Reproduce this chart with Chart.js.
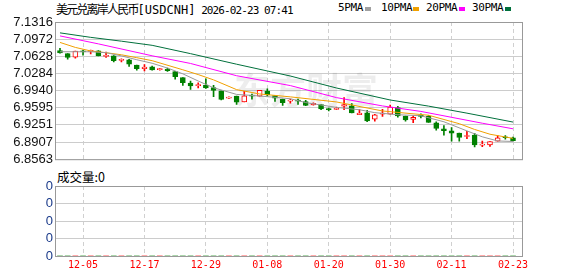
<!DOCTYPE html>
<html>
<head>
<meta charset="utf-8">
<script src="https://cdn.jsdelivr.net/npm/chart.js@4.4.1/dist/chart.umd.min.js"></script>
<style>
  body { margin: 0; background: #fff; width: 578px; height: 276px; overflow: hidden; position: relative; }
  canvas { position: absolute; left: 0; }
  #main { top: 0; }
  #vol { top: 170px; }
  .txt { position: absolute; white-space: nowrap; color: #000; }
  .cjk { font-family: "Noto Sans CJK SC", sans-serif; }
  .mono { font-family: "DejaVu Sans Mono", monospace; }
  .lg { position: absolute; top: 2px; font: 11px/12px "DejaVu Sans Mono", monospace; letter-spacing: -0.35px; color: #000; }
  .sw { position: absolute; top: 7px; width: 6px; height: 4px; }
</style>
</head>
<body>
<div class="txt" style="left:56px;top:1px;line-height:16px;">
  <span class="cjk" style="font-size:12px;letter-spacing:-1.8px;">美元兑离岸人民币</span><span class="mono" style="font-size:12px;">[USDCNH]</span><span class="mono" style="font-size:11px;letter-spacing:-0.9px;"> 2026-02-23 07:41</span>
</div>
<div class="lg" style="left:338px;">5PMA</div><div class="sw" style="left:365px;background:#a0a0a0;"></div>
<div class="lg" style="left:381px;">10PMA</div><div class="sw" style="left:413px;background:#f0a000;"></div>
<div class="lg" style="left:426px;">20PMA</div><div class="sw" style="left:459px;background:#ff00ff;"></div>
<div class="lg" style="left:472px;">30PMA</div><div class="sw" style="left:505px;background:#00703c;"></div>
<div class="txt cjk" style="left:57px;top:169px;font-size:12.5px;line-height:16px;">成交量:0</div>

<canvas id="main" width="578" height="170"></canvas>
<canvas id="vol" width="578" height="106"></canvas>

<script>
// daily candles, 2025-12-02 .. 2026-02-23 (60 sessions)
const opens  = [7.0744, 7.0681, 7.0610, 7.0739, 7.0726, 7.0739, 7.0626, 7.0636, 7.0547, 7.0559,
                7.0450, 7.0379, 7.0417, 7.0361, 7.0373, 7.0321, 7.0200, 7.0090, 7.0039, 7.0052,
                6.9999, 6.9936, 6.9789, 6.9828, 6.9712, 6.9840, 6.9828, 6.9930, 6.9840, 6.9763,
                6.9728, 6.9737, 6.9718, 6.9654, 6.9661, 6.9564, 6.9564, 6.9629, 6.9635, 6.9455,
                6.9493, 6.9366, 6.9468, 6.9468, 6.9597, 6.9429, 6.9359, 6.9429, 6.9423, 6.9295,
                6.9173, 6.9134, 6.9089, 6.9019, 6.9045, 6.8846, 6.8852, 6.8923, 6.9000, 6.8993];
const highs  = [7.0790, 7.0681, 7.0733, 7.0752, 7.0752, 7.0745, 7.0713, 7.0640, 7.0578, 7.0566,
                7.0450, 7.0463, 7.0430, 7.0386, 7.0392, 7.0328, 7.0200, 7.0129, 7.0097, 7.0174,
                7.0045, 6.9936, 6.9814, 6.9828, 6.9924, 6.9872, 6.9943, 6.9974, 6.9840, 6.9770,
                6.9770, 6.9770, 6.9744, 6.9693, 6.9661, 6.9590, 6.9609, 6.9801, 6.9680, 6.9558,
                6.9545, 6.9461, 6.9564, 6.9648, 6.9622, 6.9429, 6.9429, 6.9474, 6.9436, 6.9314,
                6.9237, 6.9199, 6.9089, 6.9122, 6.9083, 6.8929, 6.8916, 6.9038, 6.9038, 6.9006];
const lows   = [7.0690, 7.0571, 7.0590, 7.0648, 7.0675, 7.0636, 7.0604, 7.0514, 7.0514, 7.0425,
                7.0348, 7.0334, 7.0348, 7.0348, 7.0322, 7.0167, 7.0045, 6.9963, 6.9995, 6.9982,
                6.9820, 6.9751, 6.9782, 6.9661, 6.9712, 6.9770, 6.9828, 6.9828, 6.9724, 6.9641,
                6.9686, 6.9661, 6.9635, 6.9648, 6.9558, 6.9532, 6.9558, 6.9558, 6.9494, 6.9455,
                6.9314, 6.9327, 6.9423, 6.9468, 6.9404, 6.9327, 6.9295, 6.9391, 6.9301, 6.9147,
                6.9044, 6.8923, 6.8923, 6.8974, 6.8808, 6.8814, 6.8820, 6.8923, 6.8967, 6.8929];
const closes = [7.0694, 7.0604, 7.0733, 7.0714, 7.0733, 7.0636, 7.0636, 7.0540, 7.0553, 7.0469,
                7.0379, 7.0411, 7.0354, 7.0367, 7.0341, 7.0219, 7.0097, 7.0032, 7.0045, 6.9994,
                6.9943, 6.9763, 6.9801, 6.9705, 6.9834, 6.9828, 6.9943, 6.9853, 6.9789, 6.9699,
                6.9734, 6.9728, 6.9641, 6.9686, 6.9570, 6.9558, 6.9583, 6.9661, 6.9494, 6.9487,
                6.9333, 6.9455, 6.9474, 6.9609, 6.9429, 6.9352, 6.9404, 6.9423, 6.9301, 6.9179,
                6.9134, 6.9083, 6.9000, 6.9026, 6.8852, 6.8852, 6.8916, 6.8993, 6.8993, 6.8935];
const volumes = [0, 0, 0, 0, 0, 0, 0, 0, 0, 0, 0, 0, 0, 0, 0, 0, 0, 0, 0, 0,
                 0, 0, 0, 0, 0, 0, 0, 0, 0, 0, 0, 0, 0, 0, 0, 0, 0, 0, 0, 0,
                 0, 0, 0, 0, 0, 0, 0, 0, 0, 0, 0, 0, 0, 0, 0, 0, 0, 0, 0, 0];

// moving averages: [session index, value]
const ma5  = [[0, 7.0719], [4, 7.0719], [6, 7.0700], [8, 7.0636], [10, 7.0559], [12, 7.0488],
              [14, 7.0392], [16, 7.0276], [18, 7.0132], [20, 6.9997], [23, 6.9863], [25, 6.9843],
              [28, 6.9805], [30, 6.9776], [32, 6.9699], [36, 6.9603], [39, 6.9555], [41, 6.9497],
              [44, 6.9455], [47, 6.9435], [50, 6.9314], [53, 6.9131], [55, 6.9012], [57, 6.8929],
              [59, 6.8919]];
const ma10 = [[0, 7.0906], [2, 7.0806], [4, 7.0735], [6, 7.0700], [8, 7.0658], [10, 7.0600],
              [12, 7.0540], [16, 7.0357], [18, 7.0261], [20, 7.0155], [23, 6.9959], [26, 6.9872],
              [30, 6.9814], [36, 6.9712], [42, 6.9531], [48, 6.9445], [52, 6.9275], [54, 6.9160],
              [56, 6.9064], [59, 6.8981]];
const ma20 = [[0, 7.1037], [5, 7.0877], [12, 7.0638], [17, 7.0484], [23, 7.0238], [30, 7.0040],
              [36, 6.9799], [42, 6.9632], [47, 6.9522], [55, 6.9285], [59, 6.9173]];
const ma30 = [[0, 7.1098], [4, 7.1008], [8, 7.0931], [12, 7.0848], [17, 7.0681], [23, 7.0469],
              [30, 7.0232], [36, 6.9992], [43, 6.9751], [48, 6.9628], [53, 6.9487], [59, 6.9308]];

const tickIdx    = [3, 11, 19, 27, 35, 43, 51, 59];
const tickLabels = ['12-05', '12-17', '12-29', '01-08', '01-20', '01-30', '02-11', '02-23'];
const yTickLabels = ['6.8563', '6.8907', '6.9251', '6.9595', '6.9940', '7.0284', '7.0628', '7.0972', '7.1316'];
const volTickLabels = ['0', '0', '0', '0', '0'];

const RED = '#ff0000';
const GREEN = '#008000';
const X_MIN = -0.52, X_MAX = 60.17;

const isUp = closes.map((c, i) => c >= opens[i]);
const candleColor = isUp.map(u => u ? RED : GREEN);

// draws the grey frame round the plot area
const frame = {
    id: 'frame',
    afterDraw(chart) {
        const { left, top, right, bottom } = chart.chartArea;
        const ctx = chart.ctx;
        ctx.save();
        ctx.strokeStyle = '#999';
        ctx.lineWidth = 1;
        ctx.strokeRect(left - 0.5, top + 0.5, right - left + 1, bottom - top);
        ctx.restore();
    }
};

const watermark = {
    id: 'watermark',
    beforeDatasetsDraw(chart) {
        const ctx = chart.ctx;
        ctx.save();
        ctx.font = 'bold 36px "Noto Sans CJK SC"';
        ctx.fillStyle = 'rgba(0, 0, 0, 0.07)';
        ctx.textAlign = 'center';
        ctx.textBaseline = 'middle';
        ctx.fillText('东方财富', 306, 90);
        ctx.restore();
    }
};

function xScale(showLabels) {
    return {
        type: 'linear',
        min: X_MIN,
        max: X_MAX,
        offset: false,
        afterBuildTicks: s => { s.ticks = tickIdx.map(v => ({ value: v })); },
        afterFit: s => { s.height = showLabels ? 20 : 5; },
        ticks: {
            display: showLabels,
            autoSkip: false,
            maxRotation: 0,
            padding: 3,
            color: RED,
            font: { family: '"DejaVu Sans Mono"', size: 10 },
            callback: v => tickLabels[tickIdx.indexOf(v)]
        },
        grid: { color: '#d0d0d0', drawTicks: false, offset: false },
        border: { display: false, dash: [4, 3] }
    };
}

function maLine(points, color) {
    return {
        type: 'line',
        data: points.map(p => ({ x: p[0], y: p[1] })),
        borderColor: color,
        borderWidth: 1,
        pointRadius: 0,
        tension: 0,
        order: -1
    };
}

new Chart(document.getElementById('main'), {
    type: 'bar',
    data: {
        datasets: [
            maLine(ma5, '#999999'),
            maLine(ma10, '#f0a000'),
            maLine(ma20, '#ff00ff'),
            maLine(ma30, '#00703c'),
            {
                // candle bodies
                data: closes.map((c, i) => ({ x: i, y: [opens[i], c] })),
                backgroundColor: isUp.map(u => u ? '#ffffff' : GREEN),
                borderColor: candleColor,
                borderWidth: 1,
                borderSkipped: false,
                barThickness: 5,
                minBarLength: 1,
                grouped: false,
                order: 0
            },
            {
                // wicks
                data: highs.map((h, i) => ({ x: i, y: [lows[i], h] })),
                backgroundColor: candleColor,
                borderWidth: 0,
                barThickness: 1,
                grouped: false,
                order: 1
            }
        ]
    },
    options: {
        responsive: false,
        animation: false,
        events: [],
        layout: { padding: { top: 22, right: 56, left: 0, bottom: 0 } },
        plugins: { legend: { display: false }, tooltip: { enabled: false } },
        scales: {
            x: xScale(false),
            y: {
                min: 6.8563,
                max: 7.1316,
                beginAtZero: false,
                afterBuildTicks: s => { s.ticks = yTickLabels.map(t => ({ value: Number(t) })); },
                afterFit: s => { s.width = 56; },
                ticks: {
                    autoSkip: false,
                    padding: 3,
                    color: '#111',
                    font: { family: '"Liberation Sans"', size: 13 },
                    callback: (v, i) => yTickLabels[i]
                },
                grid: { color: '#cccccc', drawTicks: false },
                border: { display: false }
            }
        }
    },
    plugins: [watermark, frame]
});

new Chart(document.getElementById('vol'), {
    type: 'bar',
    data: {
        datasets: [{
            data: volumes.map((v, i) => ({ x: i, y: v })),
            backgroundColor: candleColor,
            barThickness: 5
        }]
    },
    options: {
        responsive: false,
        animation: false,
        events: [],
        layout: { padding: { top: 16, right: 56, left: 0, bottom: 0 } },
        plugins: { legend: { display: false }, tooltip: { enabled: false } },
        scales: {
            x: xScale(true),
            y: {
                min: 0,
                max: volTickLabels.length - 1,
                afterBuildTicks: s => { s.ticks = volTickLabels.map((t, i) => ({ value: i })); },
                afterFit: s => { s.width = 56; },
                ticks: {
                    autoSkip: false,
                    padding: 3,
                    color: '#1a3a8a',
                    font: { family: '"Liberation Sans"', size: 13 },
                    callback: (v, i) => volTickLabels[i]
                },
                grid: { color: '#cccccc', drawTicks: false },
                border: { display: false }
            }
        }
    },
    plugins: [frame]
});
</script>
</body>
</html>
